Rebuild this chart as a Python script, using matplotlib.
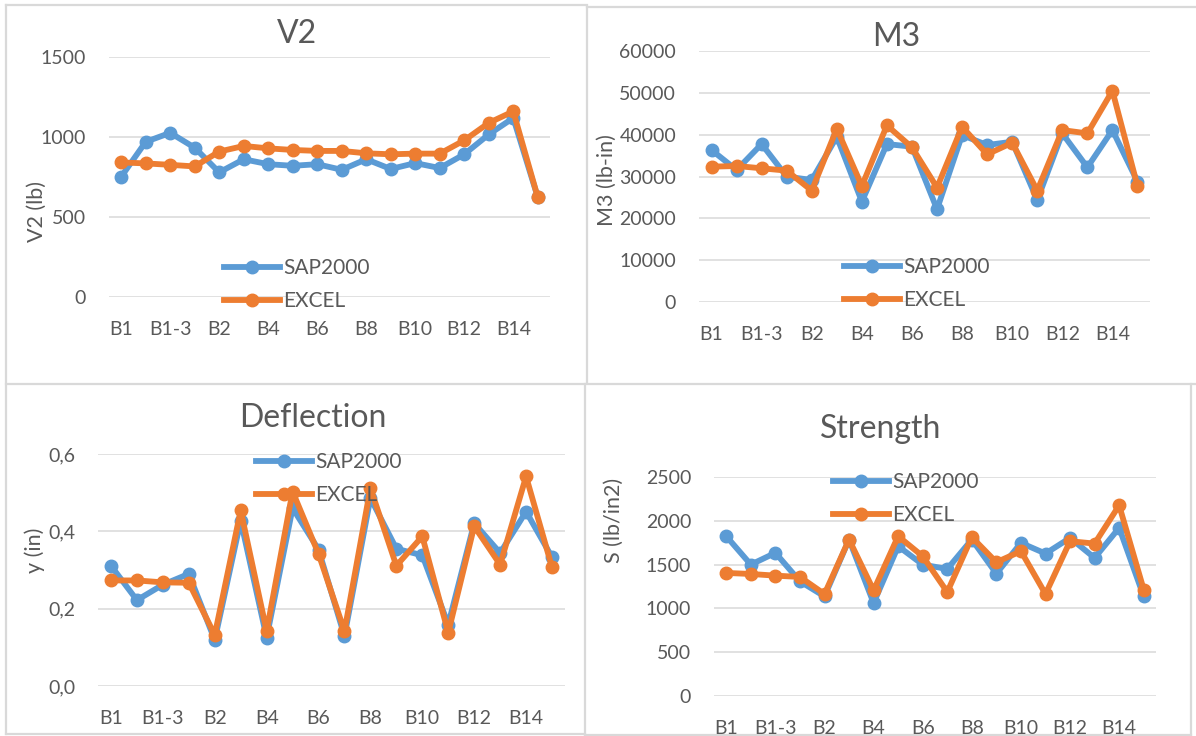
import matplotlib
matplotlib.use("Agg")
import matplotlib.pyplot as plt
from matplotlib.lines import Line2D
from matplotlib.ticker import FuncFormatter

plt.rcParams['font.family'] = ['Lato', 'DejaVu Sans']

W, H = 1196, 736
TXT = '#595959'
GRID = '#d9d9d9'
BLUE = '#5B9BD5'
ORANGE = '#ED7D31'

categories = ['B1', 'B1-2', 'B1-3', 'B1-4', 'B2', 'B3', 'B4', 'B5', 'B6',
              'B7', 'B8', 'B9', 'B10', 'B11', 'B12', 'B13', 'B14', 'B15']
shown_labels = ['B1', '', 'B1-3', '', 'B2', '', 'B4', '', 'B6', '', 'B8', '',
                'B10', '', 'B12', '', 'B14', '']

v2_sap = [752, 970, 1026, 933, 779, 861, 830, 820, 830, 795, 861, 800, 837,
          806, 892, 1016, 1119, 624]
v2_excel = [841, 835, 826, 816, 909, 944, 929, 919, 913, 913, 898, 892, 896,
            896, 979, 1088, 1160, 624]

m3_sap = [36330, 31560, 37760, 29970, 29170, 39500, 24010, 37760, 37120,
          22180, 39900, 37520, 38310, 24400, 40300, 32190, 41100, 28780]
m3_excel = [32350, 32510, 31960, 31400, 26630, 41420, 27740, 42210, 36960,
            27350, 41890, 35290, 38080, 26630, 41100, 40300, 50480, 27740]

defl_sap = [0.311, 0.222, 0.262, 0.290, 0.119, 0.428, 0.125, 0.460, 0.353,
            0.129, 0.486, 0.355, 0.338, 0.159, 0.421, 0.344, 0.451, 0.333]
defl_excel = [0.273, 0.273, 0.268, 0.267, 0.132, 0.454, 0.142, 0.503, 0.342,
              0.142, 0.512, 0.311, 0.387, 0.138, 0.413, 0.314, 0.542, 0.307]

str_sap = [1824, 1500, 1634, 1309, 1137, 1786, 1061, 1710, 1500, 1450, 1786,
           1397, 1748, 1626, 1805, 1576, 1920, 1137]
str_excel = [1405, 1393, 1374, 1359, 1164, 1786, 1206, 1824, 1595, 1187, 1813,
             1527, 1653, 1164, 1767, 1740, 2176, 1214]

fig = plt.figure(figsize=(W / 100, H / 100), dpi=100)
fig.patch.set_facecolor('white')


def fx(x):
    return x / W


def fy(y):
    return 1 - y / H


def box(x0, y0, x1, y1):
    return [fx(x0), fy(y1), (x1 - x0) / W, (y1 - y0) / H]


def panel(rect, sap, excel, ymax, ystep, title, title_xy, ylabel, ylabel_xy,
          leg_xy, fmt=None):
    ax = fig.add_axes(box(*rect))
    x = list(range(len(categories)))
    ax.plot(x, sap, color=BLUE, lw=4.2, marker='o', ms=9,
            label='SAP2000', solid_joinstyle='round', zorder=3)
    ax.plot(x, excel, color=ORANGE, lw=4.2, marker='o', ms=9,
            label='EXCEL', solid_joinstyle='round', zorder=4)
    ax.set_xlim(-0.5, len(categories) - 0.5)
    ax.set_ylim(0, ymax)
    ticks = [i * ystep for i in range(int(round(ymax / ystep)) + 1)]
    ax.set_yticks(ticks)
    if fmt is not None:
        ax.yaxis.set_major_formatter(FuncFormatter(fmt))
    ax.set_xticks(x)
    ax.set_xticklabels(shown_labels)
    for s in ax.spines.values():
        s.set_visible(False)
    ax.tick_params(length=0, labelsize=14, colors=TXT)
    ax.tick_params(axis='y', pad=16.5)
    ax.tick_params(axis='x', pad=17)
    ax.grid(axis='y', color=GRID, lw=1.1)
    ax.set_axisbelow(True)
    ax.patch.set_alpha(0)
    fig.text(fx(title_xy[0]), fy(title_xy[1]), title, fontsize=23,
             color=TXT, ha='center', va='center')
    fig.text(fx(ylabel_xy[0]), fy(ylabel_xy[1]), ylabel, fontsize=15.5,
             color=TXT, ha='center', va='center', rotation=90)
    leg = ax.legend(loc='upper left',
                    bbox_to_anchor=(fx(leg_xy[0]), fy(leg_xy[1])),
                    bbox_transform=fig.transFigure, frameon=False,
                    fontsize=15, handlelength=2.7, handletextpad=0.15,
                    labelspacing=0.62, borderpad=0, borderaxespad=0,
                    numpoints=1)
    for t in leg.get_texts():
        t.set_color(TXT)
    leg.set_zorder(5)
    return ax


panel((109, 57, 550, 297), v2_sap, v2_excel, 1500, 500, 'V2', (297, 34),
      'V2 (lb)', (37, 211), (224, 258))
panel((699, 51, 1150, 302), m3_sap, m3_excel, 60000, 10000, 'M3', (896, 37),
      'M3 (lb-in)', (607, 180), (844, 257))
panel((98, 454, 565, 686), defl_sap, defl_excel, 0.6, 0.2, 'Deflection',
      (313, 418), 'y (in)', (35, 550), (256, 452),
      fmt=lambda v, p: f'{v:.1f}'.replace('.', ','))
panel((714, 477, 1156, 696), str_sap, str_excel, 2500, 500, 'Strength',
      (881, 429), 'S (lb/in2)', (614, 520), (833, 472))

# chart-area frames
frame_lines = [
    ((6, 5), (587, 5)), ((6, 5), (6, 734)), ((587, 7), (587, 383)),
    ((587, 7), (1196, 7)), ((6, 384), (1196, 384)), ((585, 384), (585, 736)),
    ((6, 734), (585, 734)), ((1191, 384), (1191, 736)), ((585, 735), (1191, 735)),
]
for (x0, y0), (x1, y1) in frame_lines:
    fig.add_artist(Line2D([fx(x0), fx(x1)], [fy(y0), fy(y1)],
                          transform=fig.transFigure, color=GRID, lw=1.6,
                          zorder=0))

fig.savefig('out.png', dpi=100, facecolor='white')
